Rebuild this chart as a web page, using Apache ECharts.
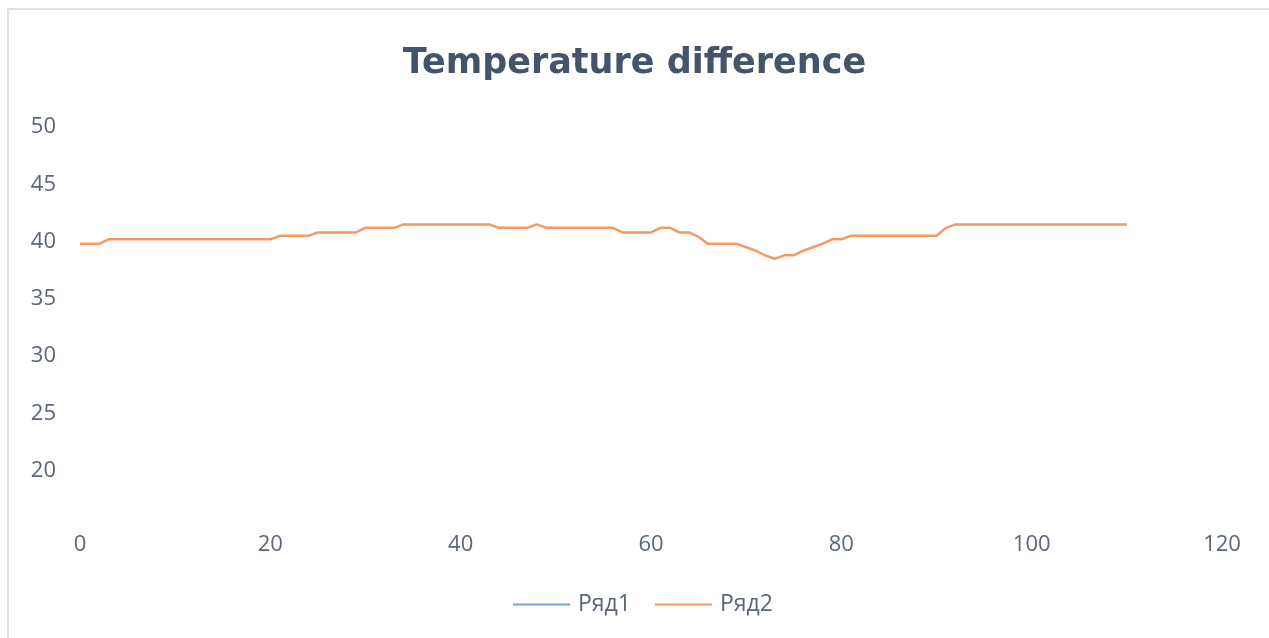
<!DOCTYPE html>
<html>
<head>
<meta charset="utf-8">
<script src="https://cdn.jsdelivr.net/npm/echarts@6/dist/echarts.min.js"></script>
<style>
  html, body { margin: 0; padding: 0; background: #fff; }
  .frame {
    position: absolute; left: 7px; top: 8px; right: 0; bottom: 0;
    border-top: 2px solid #d9e1ea; border-left: 2px solid #d9e1ea;
  }
  #chart { position: absolute; left: 0; top: 0; width: 1269px; height: 638px; }
</style>
</head>
<body>
<div class="frame"></div>
<div id="chart"></div>
<script>
const titleText = 'Temperature difference'
const seriesNames = ['Ряд1', 'Ряд2']
const xTicks = [0, 20, 40, 60, 80, 100, 120]
const yTicks = [15, 20, 25, 30, 35, 40, 45, 50]

// Ряд1 has no visible points in the picture
const ser1 = []
// Ряд2, one value per step x = 0..110
const ser2 = [
  39.8, 39.8, 39.8, 40.2, 40.2, 40.2, 40.2, 40.2, 40.2, 40.2,
  40.2, 40.2, 40.2, 40.2, 40.2, 40.2, 40.2, 40.2, 40.2, 40.2,
  40.2, 40.5, 40.5, 40.5, 40.5, 40.8, 40.8, 40.8, 40.8, 40.8,
  41.2, 41.2, 41.2, 41.2, 41.5, 41.5, 41.5, 41.5, 41.5, 41.5,
  41.5, 41.5, 41.5, 41.5, 41.2, 41.2, 41.2, 41.2, 41.5, 41.2,
  41.2, 41.2, 41.2, 41.2, 41.2, 41.2, 41.2, 40.8, 40.8, 40.8,
  40.8, 41.2, 41.2, 40.8, 40.8, 40.4, 39.8, 39.8, 39.8, 39.8,
  39.5, 39.2, 38.8, 38.5, 38.8, 38.8, 39.2, 39.5, 39.8, 40.2,
  40.2, 40.5, 40.5, 40.5, 40.5, 40.5, 40.5, 40.5, 40.5, 40.5,
  40.5, 41.2, 41.5, 41.5, 41.5, 41.5, 41.5, 41.5, 41.5, 41.5,
  41.5, 41.5, 41.5, 41.5, 41.5, 41.5, 41.5, 41.5, 41.5, 41.5,
  41.5
]

const labelColor = '#5b6677'
const font = 'Open Sans'

const myChart = echarts.init(document.getElementById('chart'), null, { renderer: 'canvas' })
myChart.setOption({
  animation: false,
  title: {
    text: titleText,
    left: 'center',
    top: 41,
    textStyle: { fontFamily: 'DejaVu Sans', fontSize: 35, fontWeight: 'bold', color: '#44546a' }
  },
  legend: {
    data: seriesNames,
    left: 508,
    top: 588,
    icon: 'rect',
    itemWidth: 57,
    itemHeight: 2,
    itemGap: 24,
    textStyle: { fontFamily: font, fontSize: 23, color: labelColor, padding: [0, 0, 0, 3] }
  },
  grid: { left: 80, right: 47, top: 127, bottom: 110 },
  xAxis: {
    type: 'value',
    min: xTicks[0],
    max: xTicks[xTicks.length - 1],
    interval: 20,
    axisLine: { show: false },
    axisTick: { show: false },
    splitLine: { show: false },
    axisLabel: { margin: 6, fontFamily: font, fontSize: 22, color: labelColor }
  },
  yAxis: {
    type: 'value',
    min: yTicks[0],
    max: yTicks[yTicks.length - 1],
    interval: 5,
    axisLine: { show: false },
    axisTick: { show: false },
    splitLine: { show: false },
    axisLabel: { margin: 24, showMinLabel: false, fontFamily: font, fontSize: 22, color: labelColor }
  },
  series: [
    {
      name: seriesNames[0],
      type: 'line',
      symbol: 'none',
      lineStyle: { width: 2.5, color: '#6aa6dc' },
      itemStyle: { color: '#6aa6dc' },
      data: ser1.map((v, i) => [i, v])
    },
    {
      name: seriesNames[1],
      type: 'line',
      symbol: 'none',
      lineStyle: { width: 2.5, color: '#f29a66' },
      itemStyle: { color: '#f29a66' },
      data: ser2.map((v, i) => [i, v])
    }
  ]
})
window.onresize = myChart.resize
</script>
</body>
</html>
